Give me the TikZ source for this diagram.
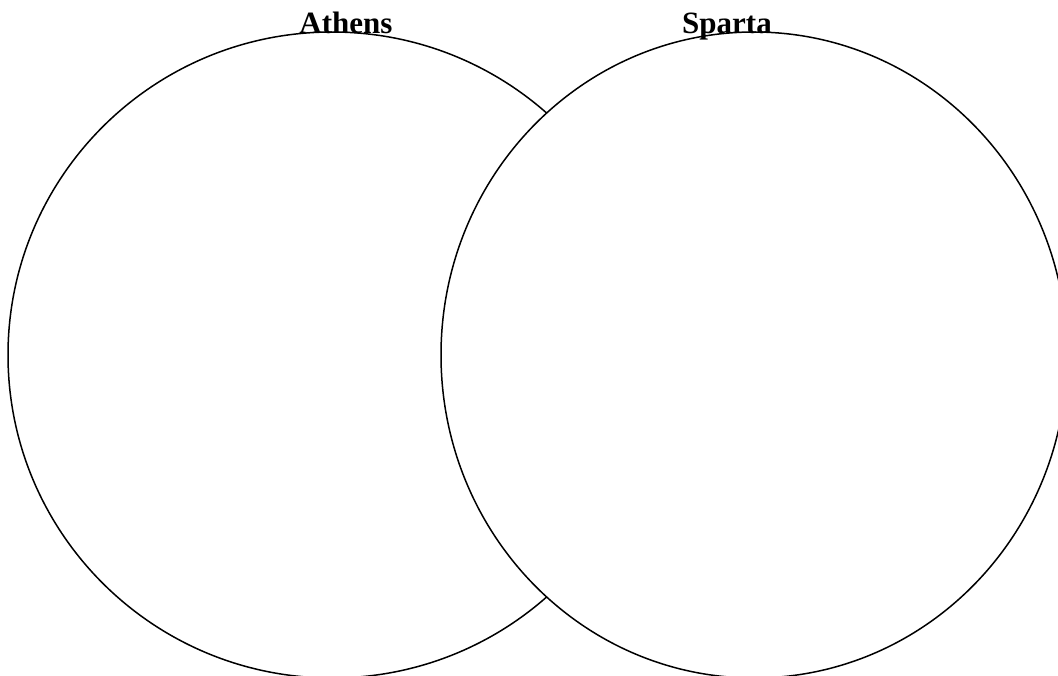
\documentclass[tikz,border=0pt]{standalone}
\usepackage{fontspec}
\setmainfont{Liberation Serif}
\usetikzlibrary{shapes.geometric}
\begin{document}
\begin{tikzpicture}[x=1pt,y=-1pt,
  ring/.style={ellipse,draw=black,line width=1.5pt,inner sep=0pt,outer sep=0pt},
  title/.style={font=\fontsize{31}{36}\selectfont\bfseries,anchor=base,inner sep=0pt}]
\useasboundingbox (0,0) rectangle (1058,675);
\clip (0,0) rectangle (1058,675);
\node[ring,minimum width=648pt,minimum height=646pt] (athensC) at (332,355) {};
\node[ring,fill=white,minimum width=626pt,minimum height=646pt] (spartaC) at (754,355) {};
\node[title] (athens) at (346,33) {Athens};
\node[title] (sparta) at (727,33) {Sparta};
\end{tikzpicture}
\end{document}
